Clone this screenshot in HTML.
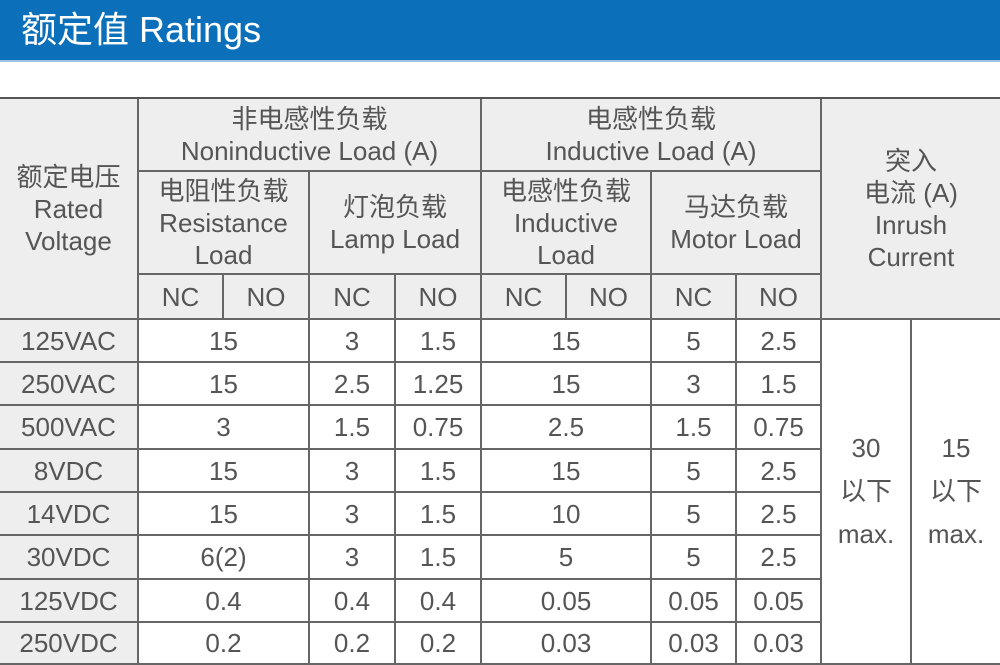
<!DOCTYPE html>
<html><head><meta charset="utf-8"><style>
body{margin:0;width:1000px;height:665px;background:#fff;position:relative;overflow:hidden;font-family:"Liberation Sans","Noto Sans CJK SC",sans-serif;}
.hd{position:absolute;left:0;top:0;width:1000px;height:60px;background:#0b6fba;border-bottom:2px solid #9cc3e3;}
.hd span{position:absolute;left:21px;top:7px;color:#fff;font-size:36px;line-height:46px;}
.c{position:absolute;box-sizing:border-box;display:flex;align-items:center;justify-content:center;text-align:center;color:#555;font-size:26px;line-height:32px;border-right:2px solid #666;border-bottom:2px solid #666;}
.g{background:#eeeeee;}
.top{position:absolute;left:0;top:97px;width:1000px;height:2px;background:#555;}
</style></head><body>
<div class="hd"><span>额定值 Ratings</span></div>
<div class="top"></div>
<div class="c g" style="left:0;top:99px;width:139px;height:221px">额定电压<br>Rated<br>Voltage</div>
<div class="c g" style="left:139px;top:99px;width:343px;height:73px">非电感性负载<br>Noninductive Load (A)</div>
<div class="c g" style="left:482px;top:99px;width:340px;height:73px">电感性负载<br>Inductive Load (A)</div>
<div class="c g" style="left:822px;top:99px;width:178px;height:221px;border-right:none">突入<br>电流 (A)<br>Inrush<br>Current</div>
<div class="c g" style="left:139px;top:172px;width:171px;height:103px">电阻性负载<br>Resistance<br>Load</div>
<div class="c g" style="left:310px;top:172px;width:172px;height:103px">灯泡负载<br>Lamp Load</div>
<div class="c g" style="left:482px;top:172px;width:170px;height:103px">电感性负载<br>Inductive<br>Load</div>
<div class="c g" style="left:652px;top:172px;width:170px;height:103px">马达负载<br>Motor Load</div>
<div class="c g" style="left:139px;top:275px;width:85px;height:45px">NC</div>
<div class="c g" style="left:224px;top:275px;width:86px;height:45px">NO</div>
<div class="c g" style="left:310px;top:275px;width:86px;height:45px">NC</div>
<div class="c g" style="left:396px;top:275px;width:86px;height:45px">NO</div>
<div class="c g" style="left:482px;top:275px;width:85px;height:45px">NC</div>
<div class="c g" style="left:567px;top:275px;width:85px;height:45px">NO</div>
<div class="c g" style="left:652px;top:275px;width:85px;height:45px">NC</div>
<div class="c g" style="left:737px;top:275px;width:85px;height:45px">NO</div>

<div class="c g" style="left:0;top:320px;width:139px;height:43px">125VAC</div>
<div class="c" style="left:139px;top:320px;width:171px;height:43px">15</div>
<div class="c" style="left:310px;top:320px;width:86px;height:43px">3</div>
<div class="c" style="left:396px;top:320px;width:86px;height:43px">1.5</div>
<div class="c" style="left:482px;top:320px;width:170px;height:43px">15</div>
<div class="c" style="left:652px;top:320px;width:85px;height:43px">5</div>
<div class="c" style="left:737px;top:320px;width:85px;height:43px">2.5</div>

<div class="c g" style="left:0;top:363px;width:139px;height:43px">250VAC</div>
<div class="c" style="left:139px;top:363px;width:171px;height:43px">15</div>
<div class="c" style="left:310px;top:363px;width:86px;height:43px">2.5</div>
<div class="c" style="left:396px;top:363px;width:86px;height:43px">1.25</div>
<div class="c" style="left:482px;top:363px;width:170px;height:43px">15</div>
<div class="c" style="left:652px;top:363px;width:85px;height:43px">3</div>
<div class="c" style="left:737px;top:363px;width:85px;height:43px">1.5</div>

<div class="c g" style="left:0;top:406px;width:139px;height:44px">500VAC</div>
<div class="c" style="left:139px;top:406px;width:171px;height:44px">3</div>
<div class="c" style="left:310px;top:406px;width:86px;height:44px">1.5</div>
<div class="c" style="left:396px;top:406px;width:86px;height:44px">0.75</div>
<div class="c" style="left:482px;top:406px;width:170px;height:44px">2.5</div>
<div class="c" style="left:652px;top:406px;width:85px;height:44px">1.5</div>
<div class="c" style="left:737px;top:406px;width:85px;height:44px">0.75</div>

<div class="c g" style="left:0;top:450px;width:139px;height:43px">8VDC</div>
<div class="c" style="left:139px;top:450px;width:171px;height:43px">15</div>
<div class="c" style="left:310px;top:450px;width:86px;height:43px">3</div>
<div class="c" style="left:396px;top:450px;width:86px;height:43px">1.5</div>
<div class="c" style="left:482px;top:450px;width:170px;height:43px">15</div>
<div class="c" style="left:652px;top:450px;width:85px;height:43px">5</div>
<div class="c" style="left:737px;top:450px;width:85px;height:43px">2.5</div>

<div class="c g" style="left:0;top:493px;width:139px;height:43px">14VDC</div>
<div class="c" style="left:139px;top:493px;width:171px;height:43px">15</div>
<div class="c" style="left:310px;top:493px;width:86px;height:43px">3</div>
<div class="c" style="left:396px;top:493px;width:86px;height:43px">1.5</div>
<div class="c" style="left:482px;top:493px;width:170px;height:43px">10</div>
<div class="c" style="left:652px;top:493px;width:85px;height:43px">5</div>
<div class="c" style="left:737px;top:493px;width:85px;height:43px">2.5</div>

<div class="c g" style="left:0;top:536px;width:139px;height:44px">30VDC</div>
<div class="c" style="left:139px;top:536px;width:171px;height:44px">6(2)</div>
<div class="c" style="left:310px;top:536px;width:86px;height:44px">3</div>
<div class="c" style="left:396px;top:536px;width:86px;height:44px">1.5</div>
<div class="c" style="left:482px;top:536px;width:170px;height:44px">5</div>
<div class="c" style="left:652px;top:536px;width:85px;height:44px">5</div>
<div class="c" style="left:737px;top:536px;width:85px;height:44px">2.5</div>

<div class="c g" style="left:0;top:580px;width:139px;height:43px">125VDC</div>
<div class="c" style="left:139px;top:580px;width:171px;height:43px">0.4</div>
<div class="c" style="left:310px;top:580px;width:86px;height:43px">0.4</div>
<div class="c" style="left:396px;top:580px;width:86px;height:43px">0.4</div>
<div class="c" style="left:482px;top:580px;width:170px;height:43px">0.05</div>
<div class="c" style="left:652px;top:580px;width:85px;height:43px">0.05</div>
<div class="c" style="left:737px;top:580px;width:85px;height:43px">0.05</div>

<div class="c g" style="left:0;top:623px;width:139px;height:42px">250VDC</div>
<div class="c" style="left:139px;top:623px;width:171px;height:42px">0.2</div>
<div class="c" style="left:310px;top:623px;width:86px;height:42px">0.2</div>
<div class="c" style="left:396px;top:623px;width:86px;height:42px">0.2</div>
<div class="c" style="left:482px;top:623px;width:170px;height:42px">0.03</div>
<div class="c" style="left:652px;top:623px;width:85px;height:42px">0.03</div>
<div class="c" style="left:737px;top:623px;width:85px;height:42px">0.03</div>

<div class="c" style="left:822px;top:320px;width:90px;height:345px;line-height:43px">30<br>以下<br>max.</div>
<div class="c" style="left:912px;top:320px;width:88px;height:345px;line-height:43px;border-right:none">15<br>以下<br>max.</div>
</body></html>
